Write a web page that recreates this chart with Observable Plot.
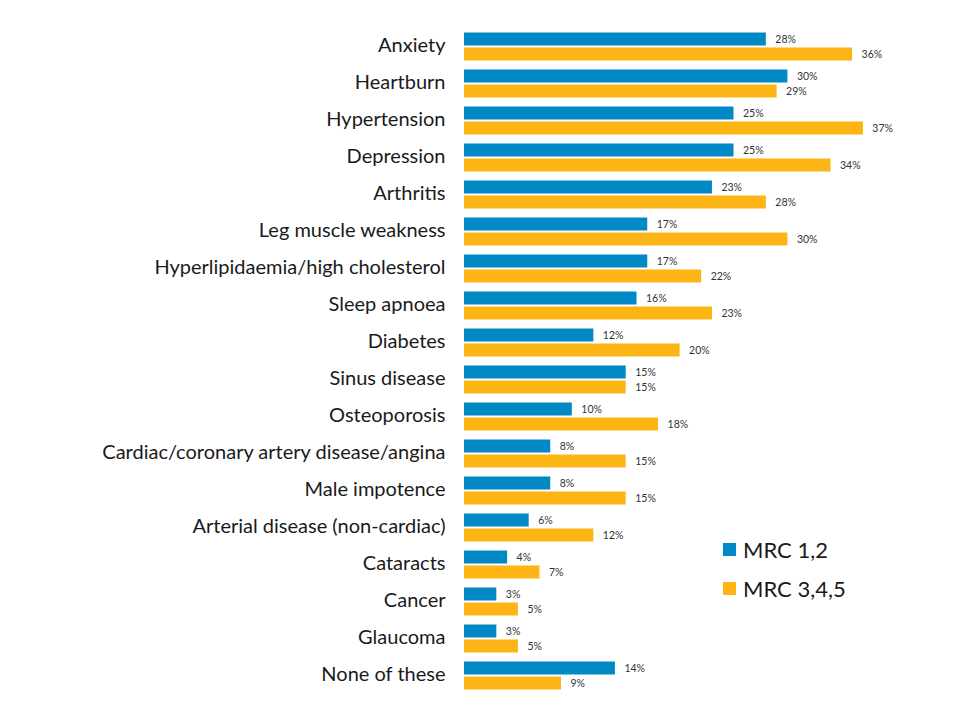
<!DOCTYPE html>
<html>
<head>
<meta charset="utf-8">
<script src="https://cdn.jsdelivr.net/npm/d3@7"></script>
<script src="https://cdn.jsdelivr.net/npm/@observablehq/plot@0.6"></script>
<style>
  html, body { margin: 0; padding: 0; background: #fff; }
  #wrap { position: relative; width: 960px; height: 720px; }
  #legend { position: absolute; left: 723px; top: 530px; font-family: Lato, "Open Sans", sans-serif; font-size: 22px; color: #1a1a1a; }
  #legend .item { display: flex; align-items: center; height: 39px; }
  #legend .sw { width: 13px; height: 13px; margin-right: 7px; }
</style>
</head>
<body>
<div id="wrap"><div id="legend"></div></div>
<script>
const categories = [
  "Anxiety", "Heartburn", "Hypertension", "Depression", "Arthritis",
  "Leg muscle weakness", "Hyperlipidaemia/high cholesterol", "Sleep apnoea",
  "Diabetes", "Sinus disease", "Osteoporosis",
  "Cardiac/coronary artery disease/angina", "Male impotence",
  "Arterial disease (non-cardiac)", "Cataracts", "Cancer", "Glaucoma", "None of these"
];
const seriesNames = ["MRC 1,2", "MRC 3,4,5"];
const mrc12 = [28, 30, 25, 25, 23, 17, 17, 16, 12, 15, 10, 8, 8, 6, 4, 3, 3, 14];
const mrc345 = [36, 29, 37, 34, 28, 30, 22, 23, 20, 15, 18, 15, 15, 12, 7, 5, 5, 9];
const colors = ["#0089C4", "#FCB514"];

const data = [];
categories.forEach((c, i) => {
  data.push({category: c, series: seriesNames[0], value: mrc12[i]});
  data.push({category: c, series: seriesNames[1], value: mrc345[i]});
});

const chart = Plot.plot({
  width: 960,
  height: 720,
  marginLeft: 464,
  marginRight: 64.8,
  marginTop: 27.5,
  marginBottom: 26.5,
  style: {fontFamily: "Lato, 'Open Sans', sans-serif", background: "#fff"},
  x: {domain: [0, 40], axis: null},
  fy: {domain: categories, paddingInner: 9/37, paddingOuter: 4.5/37, axis: null},
  y: {domain: seriesNames, paddingInner: 2/15, paddingOuter: 0, axis: null},
  color: {domain: seriesNames, range: colors},
  marks: [
    Plot.axisFy({anchor: "left", tickSize: 0, tickPadding: 19, fontSize: 20, label: null, fill: "#1a1a1a", dy: -0.5}),
    Plot.barX(data, {fy: "category", y: "series", x: "value", fill: "series"}),
    Plot.text(data, {fy: "category", y: "series", x: "value", text: d => d.value + "%", dx: 9, textAnchor: "start", fontSize: 10.5, fill: "#333"})
  ]
});
document.getElementById("wrap").prepend(chart);

const legend = document.getElementById("legend");
seriesNames.forEach((s, i) => {
  const item = document.createElement("div");
  item.className = "item";
  const sw = document.createElement("span");
  sw.className = "sw";
  sw.style.background = colors[i];
  const t = document.createElement("span");
  t.textContent = s;
  item.append(sw, t);
  legend.append(item);
});
</script>
</body>
</html>
